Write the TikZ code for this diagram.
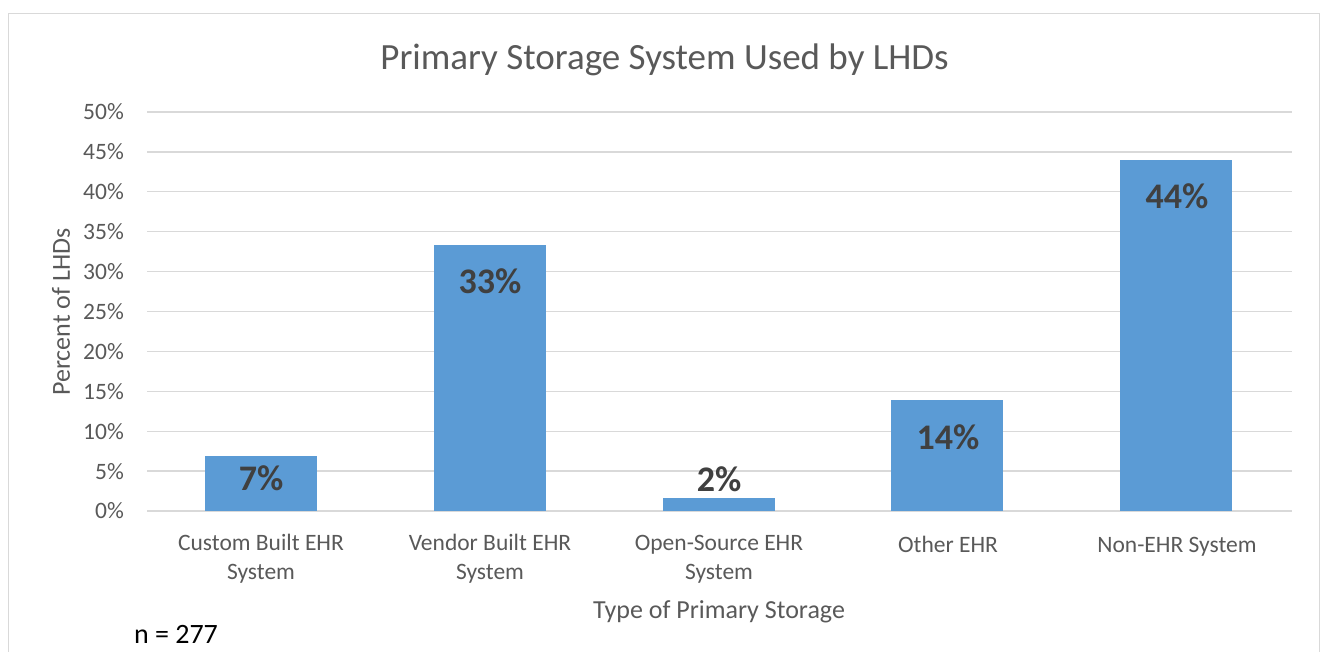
\documentclass[tikz,border=0pt]{standalone}
\usepackage{fontspec}
\setmainfont{Carlito}

\begin{document}
\begin{tikzpicture}[
  x=1pt,y=-1pt,
  gridline/.style={draw=gridGray,line width=1.3pt},
  frame/.style={draw=gridGray,line width=1.3pt},
  bar/.style={fill=barBlue,draw=none},
  ticklabel/.style={text=axisGray,anchor=east,inner sep=0pt,
                    font=\fontsize{23.5}{28}\selectfont},
  catlabel/.style={text=axisGray,align=center,inner sep=0pt,
                   font=\fontsize{23.5}{29}\selectfont},
  datalabel/.style={text=labelGray,inner sep=0pt,
                    font=\bfseries\fontsize{36}{40}\selectfont},
  axistitle/.style={text=axisGray,inner sep=0pt,
                    font=\fontsize{26}{30}\selectfont},
]
\definecolor{gridGray}{HTML}{D9D9D9}
\definecolor{barBlue}{HTML}{5B9BD5}
\definecolor{axisGray}{HTML}{595959}
\definecolor{labelGray}{HTML}{404040}

\useasboundingbox (0,0) rectangle (1322,652);
\draw[frame] (8.5,652)--(8.5,13.5)--(1319.5,13.5)--(1319.5,652);

\node[text=axisGray,inner sep=0pt,font=\fontsize{37}{42}\selectfont]
  (title) at (664.5,60) {Primary Storage System Used by LHDs};

% Value axis: gridlines every 5 percent.
\foreach \p in {0,5,...,50}{
  \draw[gridline] (147,511-7.98*\p)--(1292,511-7.98*\p);
  \node[ticklabel] (tick\p) at (124,511-7.98*\p) {\p\%};
}

% Bars, one category every 228.8 units.
\foreach \i/\v/\name in {0/6.9/custom,1/33.3/vendor,2/1.6/open,
  3/13.9/other,4/44.0/nonehr}{
  \fill[bar] (205+228.8*\i,511) rectangle (317+228.8*\i,511-7.98*\v);
}

\node[datalabel] (lcustom) at (261,478) {7\%};
\node[datalabel] (lvendor) at (490,281) {33\%};
\node[datalabel] (lopen) at (719,479) {2\%};
\node[datalabel] (lother) at (948,437) {14\%};
\node[datalabel] (lnonehr) at (1177,196) {44\%};

\node[catlabel] (ccustom) at (261,559) {Custom Built EHR\\System};
\node[catlabel] (cvendor) at (490,559) {Vendor Built EHR\\System};
\node[catlabel] (copen) at (719,559) {Open-Source EHR\\System};
\node[catlabel,anchor=base] (cother) at (948,552) {Other EHR};
\node[catlabel,anchor=base] (cnonehr) at (1177,552) {Non-EHR System};

\node[axistitle] (xtitle) at (719,612) {Type of Primary Storage};
\node[axistitle,rotate=90] (ytitle) at (61,312) {Percent of LHDs};
\node[inner sep=0pt,font=\fontsize{28}{32}\selectfont]
  (count) at (176,634) {n = 277};
\end{tikzpicture}
\end{document}
